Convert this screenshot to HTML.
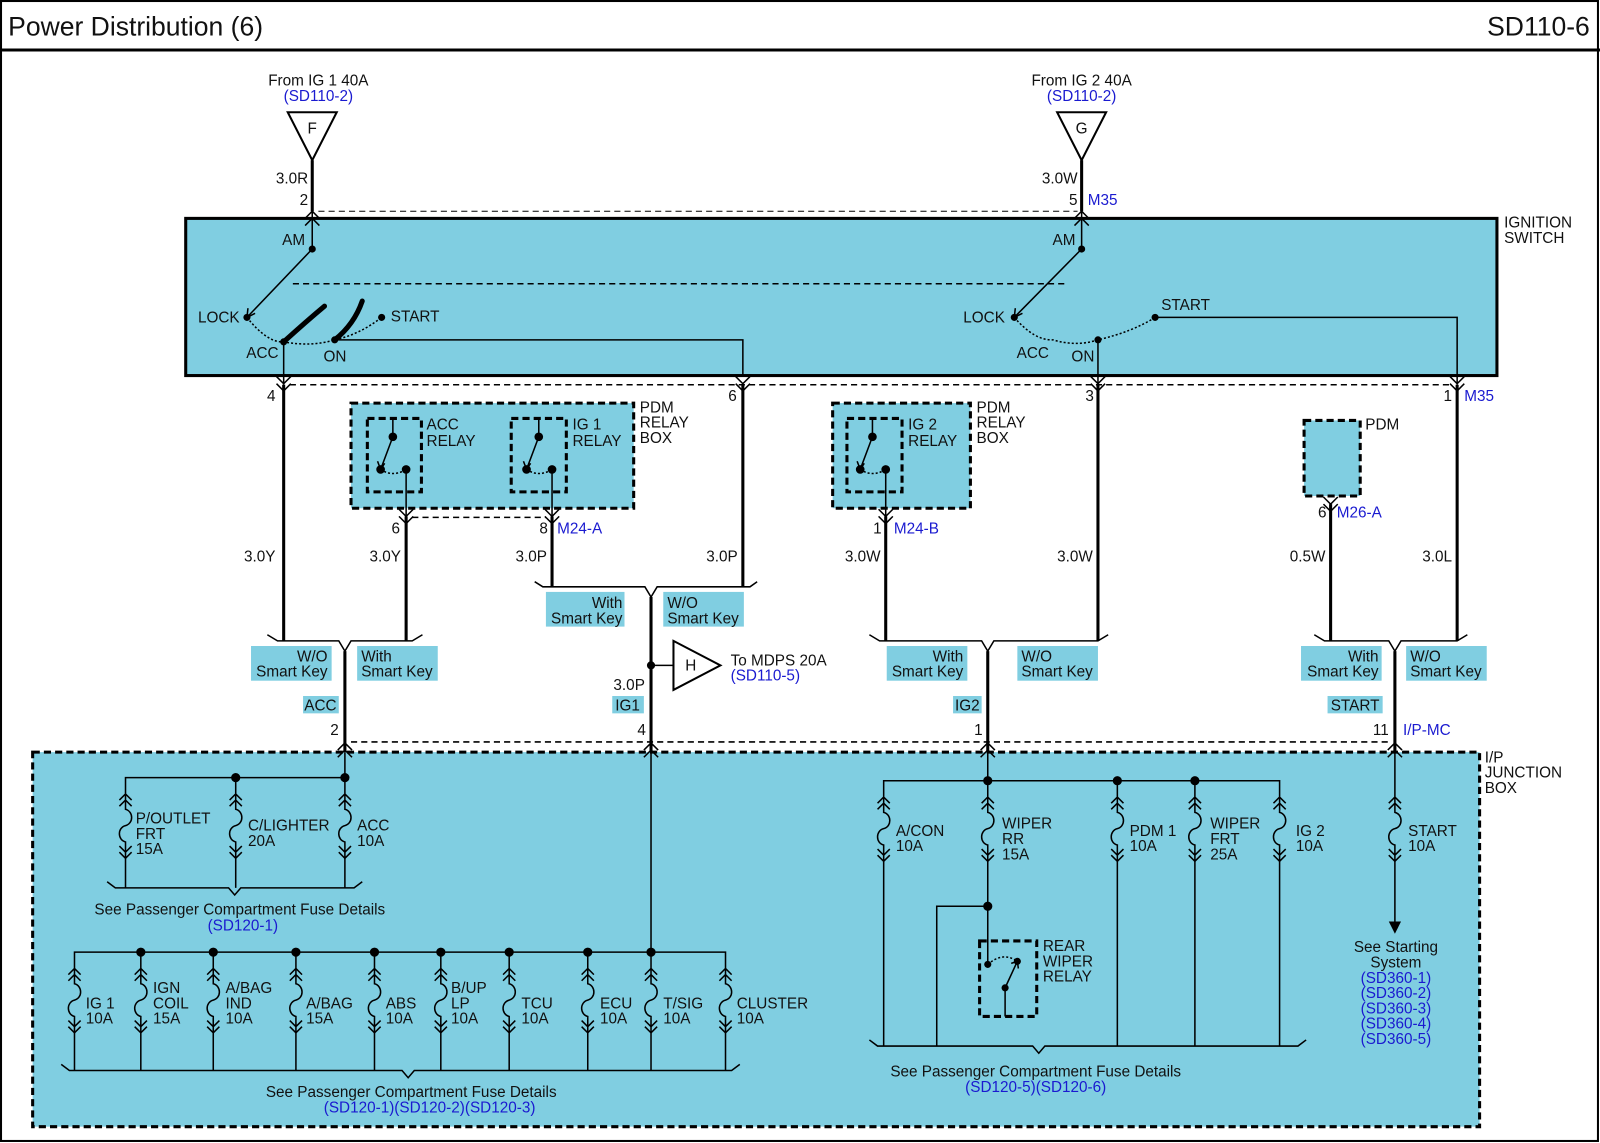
<!DOCTYPE html>
<html><head><meta charset="utf-8"><style>
html,body{margin:0;padding:0;background:#fff}
svg{display:block}
text{font-family:"Liberation Sans",Arial,sans-serif;font-size:15px;fill:#111}
.b{fill:#1a1ad0}
.t{font-size:26px}
</style></head><body>
<svg width="1600" height="1143" viewBox="0 0 1568 1120" preserveAspectRatio="none" xmlns="http://www.w3.org/2000/svg">
<defs>
<g id="fz" fill="none" stroke="#000" stroke-width="1.5">
<path d="M-6,7 L0,1 L6,7 M-6,13 L0,7 L6,13 M0,0 V16 C8,18 8,30 0,32 C-8,34 -8,46 0,48 V64 M-6,52 L0,58 L6,52 M-6,58 L0,64 L6,58"/>
</g>
<g id="rly" fill="none" stroke="#000" stroke-width="1.5">
<path d="M0,0 V18 L-12,50"/><path d="M-12,50 Q0,58 13,50" stroke-dasharray="2,2"/><path d="M13,50 V96"/>
<path d="M-15,42 L-12,50 L-8,44" />
<circle cx="0" cy="18" r="3.5" fill="#000"/><circle cx="-12" cy="50" r="3.5" fill="#000"/><circle cx="13" cy="50" r="3.5" fill="#000"/>
</g>
</defs>
<rect x="0" y="0" width="1568" height="1120" fill="#fff"/>
<rect x="1" y="1" width="1565" height="1117" fill="none" stroke="#000" stroke-width="2"/>
<text x="8" y="35" class="t">Power Distribution (6)</text>
<text x="1558" y="35" class="t" text-anchor="end">SD110-6</text>
<line x1="0" y1="49" x2="1568" y2="49" stroke="#000" stroke-width="3"/>

<!-- Ignition switch -->
<rect x="182" y="214" width="1285" height="154" fill="#80cee1" stroke="#000" stroke-width="3"/>
<text x="1474" y="223">IGNITION</text><text x="1474" y="238">SWITCH</text>

<!-- F / G -->
<text x="312" y="84" text-anchor="middle">From IG 1 40A</text>
<text x="312" y="99" text-anchor="middle" class="b">(SD110-2)</text>
<polygon points="282,110 330,110 306,157" fill="#fff" stroke="#000" stroke-width="2"/>
<text x="306" y="131" text-anchor="middle">F</text>
<text x="1060" y="84" text-anchor="middle">From IG 2 40A</text>
<text x="1060" y="99" text-anchor="middle" class="b">(SD110-2)</text>
<polygon points="1036,110 1084,110 1060,157" fill="#fff" stroke="#000" stroke-width="2"/>
<text x="1060" y="131" text-anchor="middle">G</text>

<g stroke="#000" stroke-width="3" fill="none">
<line x1="306" y1="157" x2="306" y2="207"/>
<line x1="1060" y1="157" x2="1060" y2="207"/>
</g>
<text x="302" y="180" text-anchor="end">3.0R</text>
<text x="302" y="201" text-anchor="end">2</text>
<text x="1056" y="180" text-anchor="end">3.0W</text>
<text x="1056" y="201" text-anchor="end">5</text>
<text x="1066" y="201" class="b">M35</text>
<line x1="312" y1="207" x2="1056" y2="207" stroke="#000" stroke-dasharray="6,4"/>
<g stroke="#000" stroke-width="1.5" fill="none">
<path d="M299,214 L306,207 L313,214 M299,221 L306,214 L313,221"/>
<path d="M1053,214 L1060,207 L1067,214 M1053,221 L1060,214 L1067,221"/>
<line x1="306" y1="207" x2="306" y2="244"/><line x1="1060" y1="207" x2="1060" y2="244"/>
<line x1="306" y1="244" x2="242" y2="311"/><path d="M243,302 L242,311 L250,307"/>
<line x1="287" y1="278" x2="1046" y2="278" stroke-dasharray="6,4"/>
<path d="M242,311 Q262,336 278,335 Q305,340 328,333 Q352,328 374,311" stroke-dasharray="2,2"/>
<path d="M328,333 H728 V368"/>
<line x1="278" y1="335" x2="278" y2="377"/>
<line x1="1060" y1="244" x2="994" y2="311"/><path d="M995,302 L994,311 L1002,307"/>
<path d="M994,311 Q1014,334 1032,333 Q1055,340 1076,333 Q1110,325 1132,311" stroke-dasharray="2,2"/>
<line x1="1076" y1="333" x2="1076" y2="377"/>
<path d="M1132,311 H1428 V377"/>
<line x1="284" y1="377" x2="1422" y2="377" stroke-dasharray="6,4"/>
<path d="M271,369 L278,376 L285,369 M271,376 L278,383 L285,376"/>
<path d="M721,369 L728,376 L735,369 M721,376 L728,383 L735,376"/>
<path d="M1069,369 L1076,376 L1083,369 M1069,376 L1076,383 L1083,376"/>
<path d="M1421,369 L1428,376 L1435,369 M1421,376 L1428,383 L1435,376"/>
</g>
<path d="M278,335 Q300,315 318,300" stroke="#000" stroke-width="5" fill="none" stroke-linecap="round"/>
<path d="M328,333 Q347,318 355,295" stroke="#000" stroke-width="5" fill="none" stroke-linecap="round"/>
<g fill="#000"><circle cx="306" cy="244" r="3.5"/><circle cx="242" cy="311" r="3.5"/><circle cx="278" cy="335" r="3.5"/><circle cx="328" cy="333" r="3.5"/><circle cx="374" cy="311" r="3.5"/>
<circle cx="1060" cy="244" r="3.5"/><circle cx="994" cy="311" r="3.5"/><circle cx="1076" cy="333" r="3.5"/><circle cx="1132" cy="311" r="3.5"/></g>
<text x="299" y="240" text-anchor="end">AM</text>
<text x="194" y="316">LOCK</text><text x="383" y="315">START</text>
<text x="273" y="351" text-anchor="end">ACC</text><text x="317" y="354">ON</text>
<text x="1054" y="240" text-anchor="end">AM</text>
<text x="944" y="316">LOCK</text><text x="1138" y="304">START</text>
<text x="1028" y="351" text-anchor="end">ACC</text><text x="1050" y="354">ON</text>
<text x="270" y="393" text-anchor="end">4</text>
<text x="722" y="393" text-anchor="end">6</text>
<text x="1072" y="393" text-anchor="end">3</text>
<text x="1423" y="393" text-anchor="end">1</text>
<text x="1435" y="393" class="b">M35</text>

<!-- PDM relay boxes -->
<rect x="344" y="395" width="277" height="103" fill="#80cee1" stroke="#000" stroke-width="3" stroke-dasharray="7,4"/>
<rect x="360" y="410" width="53" height="72" fill="none" stroke="#000" stroke-width="3" stroke-dasharray="7,4"/>
<rect x="501" y="410" width="54" height="72" fill="none" stroke="#000" stroke-width="3" stroke-dasharray="7,4"/>
<use href="#rly" x="385" y="410"/><use href="#rly" x="528" y="410"/>
<text x="418" y="421">ACC</text><text x="418" y="437">RELAY</text>
<text x="561" y="421">IG 1</text><text x="561" y="437">RELAY</text>
<text x="627" y="404">PDM</text><text x="627" y="419">RELAY</text><text x="627" y="434">BOX</text>
<rect x="816" y="395" width="135" height="103" fill="#80cee1" stroke="#000" stroke-width="3" stroke-dasharray="7,4"/>
<rect x="830" y="410" width="54" height="72" fill="none" stroke="#000" stroke-width="3" stroke-dasharray="7,4"/>
<use href="#rly" x="855" y="410"/>
<text x="890" y="421">IG 2</text><text x="890" y="437">RELAY</text>
<text x="957" y="404">PDM</text><text x="957" y="419">RELAY</text><text x="957" y="434">BOX</text>
<rect x="1278" y="412" width="55" height="74" fill="#80cee1" stroke="#000" stroke-width="3" stroke-dasharray="7,4"/>
<text x="1338" y="421">PDM</text>

<g stroke="#000" stroke-width="1.5" fill="none">
<line x1="404" y1="507" x2="535" y2="507" stroke-dasharray="6,4"/>
<path d="M391,499 L398,506 L405,499 M391,506 L398,513 L405,506"/>
<path d="M534,499 L541,506 L548,499 M534,506 L541,513 L548,506"/>
<path d="M861,499 L868,506 L875,499 M861,506 L868,513 L875,506"/>
<path d="M1297,487 L1304,494 L1311,487 M1297,494 L1304,501 L1311,494"/>
</g>
<text x="392" y="523" text-anchor="end">6</text>
<text x="537" y="523" text-anchor="end">8</text><text x="546" y="523" class="b">M24-A</text>
<text x="864" y="523" text-anchor="end">1</text><text x="876" y="523" class="b">M24-B</text>
<text x="1300" y="507" text-anchor="end">6</text><text x="1310" y="507" class="b">M26-A</text>

<g stroke="#000" stroke-width="3" fill="none">
<line x1="278" y1="377" x2="278" y2="628"/>
<line x1="398" y1="506" x2="398" y2="628"/>
<line x1="541" y1="506" x2="541" y2="575"/>
<line x1="728" y1="377" x2="728" y2="575"/>
<line x1="638" y1="585" x2="638" y2="737"/>
<line x1="338" y1="638" x2="338" y2="737"/>
<line x1="868" y1="506" x2="868" y2="628"/>
<line x1="1076" y1="377" x2="1076" y2="628"/>
<line x1="968" y1="638" x2="968" y2="737"/>
<line x1="1304" y1="494" x2="1304" y2="628"/>
<line x1="1428" y1="377" x2="1428" y2="628"/>
<line x1="1367" y1="638" x2="1367" y2="737"/>
</g>
<g stroke="#000" stroke-width="1.5" fill="none">
<path d="M262,622 L272,628 H332 L338,638 L344,628 H404 L414,622"/>
<path d="M524,570 L532,575 H632 L638,585 L644,575 H735 L742,570"/>
<path d="M852,622 L862,628 H962 L968,638 L974,628 H1076 L1086,622"/>
<path d="M1288,622 L1298,628 H1361 L1367,638 L1373,628 H1428 L1438,622"/>
</g>
<text x="270" y="550" text-anchor="end">3.0Y</text>
<text x="393" y="550" text-anchor="end">3.0Y</text>
<text x="536" y="550" text-anchor="end">3.0P</text>
<text x="723" y="550" text-anchor="end">3.0P</text>
<text x="863" y="550" text-anchor="end">3.0W</text>
<text x="1071" y="550" text-anchor="end">3.0W</text>
<text x="1299" y="550" text-anchor="end">0.5W</text>
<text x="1423" y="550" text-anchor="end">3.0L</text>

<g fill="#80cee1">
<rect x="535" y="580" width="77" height="34"/><rect x="650" y="580" width="79" height="34"/>
<rect x="246" y="633" width="79" height="34"/><rect x="350" y="633" width="79" height="34"/>
<rect x="869" y="633" width="79" height="34"/><rect x="997" y="633" width="79" height="34"/>
<rect x="1275" y="633" width="79" height="34"/><rect x="1378" y="633" width="79" height="34"/>
<rect x="297" y="682" width="35" height="17"/><rect x="600" y="682" width="31" height="17"/>
<rect x="934" y="682" width="28" height="17"/><rect x="1301" y="682" width="54" height="17"/>
</g>
<text x="610" y="596" text-anchor="end">With</text><text x="610" y="611" text-anchor="end">Smart Key</text>
<text x="654" y="596">W/O</text><text x="654" y="611">Smart Key</text>
<text x="321" y="648" text-anchor="end">W/O</text><text x="321" y="663" text-anchor="end">Smart Key</text>
<text x="354" y="648">With</text><text x="354" y="663">Smart Key</text>
<text x="944" y="648" text-anchor="end">With</text><text x="944" y="663" text-anchor="end">Smart Key</text>
<text x="1001" y="648">W/O</text><text x="1001" y="663">Smart Key</text>
<text x="1351" y="648" text-anchor="end">With</text><text x="1351" y="663" text-anchor="end">Smart Key</text>
<text x="1382" y="648">W/O</text><text x="1382" y="663">Smart Key</text>
<text x="314" y="696" text-anchor="middle">ACC</text>
<text x="615" y="696" text-anchor="middle">IG1</text>
<text x="948" y="696" text-anchor="middle">IG2</text>
<text x="1328" y="696" text-anchor="middle">START</text>

<line x1="638" y1="652" x2="660" y2="652" stroke="#000" stroke-width="1.5"/>
<circle cx="638" cy="652" r="4" fill="#000"/>
<polygon points="660,628 660,676 706,652" fill="#fff" stroke="#000" stroke-width="2"/>
<text x="677" y="657" text-anchor="middle">H</text>
<text x="716" y="652">To MDPS 20A</text>
<text x="716" y="667" class="b">(SD110-5)</text>
<text x="632" y="676" text-anchor="end">3.0P</text>

<text x="332" y="720" text-anchor="end">2</text>
<text x="633" y="720" text-anchor="end">4</text>
<text x="963" y="720" text-anchor="end">1</text>
<text x="1361" y="720" text-anchor="end">11</text>
<text x="1375" y="720" class="b">I/P-MC</text>

<rect x="32" y="737" width="1418" height="367" fill="#80cee1" stroke="#000" stroke-width="3" stroke-dasharray="7,4"/>
<line x1="344" y1="727" x2="1361" y2="727" stroke="#000" stroke-width="1.5" stroke-dasharray="6,4"/>
<text x="1455" y="747">I/P</text><text x="1455" y="762">JUNCTION</text><text x="1455" y="777">BOX</text>
<g stroke="#000" stroke-width="1.5" fill="none">
<path d="M331,735 L338,728 L345,735 M331,742 L338,735 L345,742"/>
<path d="M631,735 L638,728 L645,735 M631,742 L638,735 L645,742"/>
<path d="M961,735 L968,728 L975,735 M961,742 L968,735 L975,742"/>
<path d="M1360,735 L1367,728 L1374,735 M1360,742 L1367,735 L1374,742"/>
<path d="M338,737 V777 M123,777 V762 H338 M231,762 V777"/>
<path d="M123,841 V870 M231,841 V870 M338,841 V870"/>
<path d="M105,864 L113,870 H224 L230,877 L236,870 H347 L355,864"/>
<path d="M638,737 V948 M73,948 V933 H711 V948 M138,933 V948 M209,933 V948 M290,933 V948 M367,933 V948 M432,933 V948 M499,933 V948 M576,933 V948"/>
<path d="M73,1012 V1049 M138,1012 V1049 M209,1012 V1049 M290,1012 V1049 M367,1012 V1049 M432,1012 V1049 M499,1012 V1049 M576,1012 V1049 M638,1012 V1049 M711,1012 V1049"/>
<path d="M60,1043 L68,1049 H394 L400,1056 L406,1049 H717 L725,1043"/>
<path d="M968,737 V780 M866,780 V765 H1254 V780 M1095,765 V780 M1171,765 V780"/>
<path d="M866,844 V1025 M968,844 V888 V945 M918,1025 V888 H968 M1095,844 V1025 M1171,844 V1025 M1254,844 V1025"/>
<path d="M852,1019 L860,1025 H1012 L1018,1032 L1024,1025 H1272 L1280,1019"/>
<path d="M968,945 Q983,932 997,942" stroke-dasharray="2,2"/>
<path d="M985,968 L997,942 M985,968 V996 M991,944 L997,942 L998,949"/>
<path d="M1367,737 V780 M1367,844 V905"/>
</g>
<rect x="960" y="922" width="56" height="74" fill="none" stroke="#000" stroke-width="3" stroke-dasharray="7,4"/>
<polygon points="1361,903 1373,903 1367,915" fill="#000"/>
<g fill="#000">
<circle cx="338" cy="762" r="4.5"/><circle cx="231" cy="762" r="4.5"/>
<circle cx="138" cy="933" r="4.5"/><circle cx="209" cy="933" r="4.5"/><circle cx="290" cy="933" r="4.5"/><circle cx="367" cy="933" r="4.5"/><circle cx="432" cy="933" r="4.5"/><circle cx="499" cy="933" r="4.5"/><circle cx="576" cy="933" r="4.5"/><circle cx="638" cy="933" r="4.5"/>
<circle cx="968" cy="765" r="4.5"/><circle cx="1095" cy="765" r="4.5"/><circle cx="1171" cy="765" r="4.5"/>
<circle cx="968" cy="888" r="4.5"/><circle cx="968" cy="945" r="3.5"/><circle cx="997" cy="942" r="3.5"/><circle cx="985" cy="968" r="3.5"/>
</g>
<use href="#fz" x="123" y="777"/><use href="#fz" x="231" y="777"/><use href="#fz" x="338" y="777"/>
<use href="#fz" x="73" y="948"/><use href="#fz" x="138" y="948"/><use href="#fz" x="209" y="948"/><use href="#fz" x="290" y="948"/><use href="#fz" x="367" y="948"/><use href="#fz" x="432" y="948"/><use href="#fz" x="499" y="948"/><use href="#fz" x="576" y="948"/><use href="#fz" x="638" y="948"/><use href="#fz" x="711" y="948"/>
<use href="#fz" x="866" y="780"/><use href="#fz" x="968" y="780"/><use href="#fz" x="1095" y="780"/><use href="#fz" x="1171" y="780"/><use href="#fz" x="1254" y="780"/>
<use href="#fz" x="1367" y="780"/>

<text x="133" y="807">P/OUTLET</text><text x="133" y="822">FRT</text><text x="133" y="837">15A</text>
<text x="243" y="814">C/LIGHTER</text><text x="243" y="829">20A</text>
<text x="350" y="814">ACC</text><text x="350" y="829">10A</text>
<text x="235" y="896" text-anchor="middle">See Passenger Compartment Fuse Details</text>
<text x="238" y="912" text-anchor="middle" class="b">(SD120-1)</text>

<text x="84" y="988">IG 1</text><text x="84" y="1003">10A</text>
<text x="150" y="973">IGN</text><text x="150" y="988">COIL</text><text x="150" y="1003">15A</text>
<text x="221" y="973">A/BAG</text><text x="221" y="988">IND</text><text x="221" y="1003">10A</text>
<text x="300" y="988">A/BAG</text><text x="300" y="1003">15A</text>
<text x="378" y="988">ABS</text><text x="378" y="1003">10A</text>
<text x="442" y="973">B/UP</text><text x="442" y="988">LP</text><text x="442" y="1003">10A</text>
<text x="511" y="988">TCU</text><text x="511" y="1003">10A</text>
<text x="588" y="988">ECU</text><text x="588" y="1003">10A</text>
<text x="650" y="988">T/SIG</text><text x="650" y="1003">10A</text>
<text x="722" y="988">CLUSTER</text><text x="722" y="1003">10A</text>
<text x="403" y="1075" text-anchor="middle">See Passenger Compartment Fuse Details</text>
<text x="421" y="1090" text-anchor="middle" class="b">(SD120-1)(SD120-2)(SD120-3)</text>

<text x="878" y="819">A/CON</text><text x="878" y="834">10A</text>
<text x="982" y="812">WIPER</text><text x="982" y="827">RR</text><text x="982" y="842">15A</text>
<text x="1107" y="819">PDM 1</text><text x="1107" y="834">10A</text>
<text x="1186" y="812">WIPER</text><text x="1186" y="827">FRT</text><text x="1186" y="842">25A</text>
<text x="1270" y="819">IG 2</text><text x="1270" y="834">10A</text>
<text x="1022" y="932">REAR</text><text x="1022" y="947">WIPER</text><text x="1022" y="962">RELAY</text>
<text x="1015" y="1055" text-anchor="middle">See Passenger Compartment Fuse Details</text>
<text x="1015" y="1070" text-anchor="middle" class="b">(SD120-5)(SD120-6)</text>

<text x="1380" y="819">START</text><text x="1380" y="834">10A</text>
<text x="1368" y="933" text-anchor="middle">See Starting</text>
<text x="1368" y="948" text-anchor="middle">System</text>
<text x="1368" y="963" text-anchor="middle" class="b">(SD360-1)</text>
<text x="1368" y="978" text-anchor="middle" class="b">(SD360-2)</text>
<text x="1368" y="993" text-anchor="middle" class="b">(SD360-3)</text>
<text x="1368" y="1008" text-anchor="middle" class="b">(SD360-4)</text>
<text x="1368" y="1023" text-anchor="middle" class="b">(SD360-5)</text>
</svg>
</body></html>
